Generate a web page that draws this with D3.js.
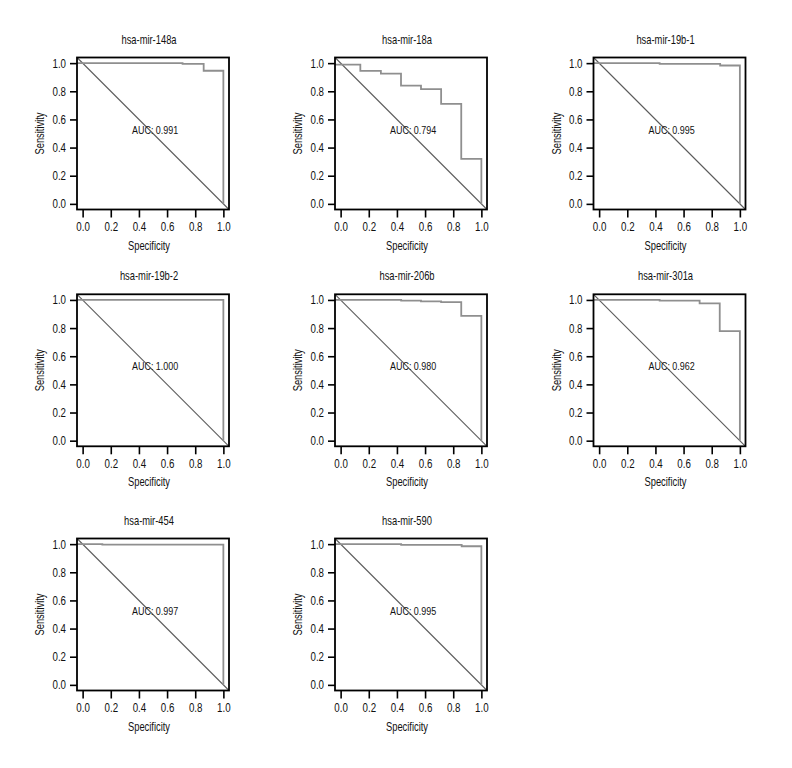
<!DOCTYPE html>
<html>
<head>
<meta charset="utf-8">
<script src="https://cdn.jsdelivr.net/npm/d3@7"></script>
<style>
  body { margin: 0; background: #fff; }
  text { font-family: "Liberation Sans", Arial, sans-serif; fill: #111; }
</style>
</head>
<body>
<svg id="chart"></svg>
<script>
// panel titles and AUC labels
var panelNames = ["hsa-mir-148a", "hsa-mir-18a", "hsa-mir-19b-1", "hsa-mir-19b-2",
                  "hsa-mir-206b", "hsa-mir-301a", "hsa-mir-454", "hsa-mir-590"];
var aucLabels = ["0.991", "0.794", "0.995", "1.000", "0.980", "0.962", "0.997", "0.995"];
var tickValues = [0, 0.2, 0.4, 0.6, 0.8, 1.0];

// step points of each ROC curve (specificity, sensitivity)
var spec148a = [0, 0.71, 0.86, 1.0];
var sens148a = [1.0, 0.995, 0.946, 0.0];
var spec18a = [0, 0.14, 0.286, 0.429, 0.571, 0.714, 0.857, 1.0];
var sens18a = [0.99, 0.945, 0.925, 0.84, 0.815, 0.71, 0.32, 0.0];
var spec19b1 = [0, 0.43, 0.86, 1.0];
var sens19b1 = [1.0, 0.995, 0.983, 0.0];
var spec19b2 = [0, 1.0];
var sens19b2 = [1.0, 0.0];
var spec206b = [0, 0.43, 0.571, 0.714, 0.857, 1.0];
var sens206b = [1.0, 0.995, 0.99, 0.985, 0.887, 0.0];
var spec301a = [0, 0.43, 0.714, 0.857, 1.0];
var sens301a = [1.0, 0.995, 0.975, 0.778, 0.0];
var spec454 = [0, 0.14, 1.0];
var sens454 = [1.0, 0.996, 0.0];
var spec590 = [0, 0.43, 0.86, 1.0];
var sens590 = [1.0, 0.995, 0.985, 0.0];

var specList = [spec148a, spec18a, spec19b1, spec19b2, spec206b, spec301a, spec454, spec590];
var sensList = [sens148a, sens18a, sens19b1, sens19b2, sens206b, sens301a, sens454, sens590];

var svgWidth = 792, svgHeight = 768;
var size = 152;
var colLeft = [77, 335, 593.5];
var rowTop = [57.5, 294.3, 538.5];
var narrow = "scale(0.78,1)";   // condensed look of the original font

var svg = d3.select("#chart")
    .attr("width", svgWidth)
    .attr("height", svgHeight);

var x = d3.scaleLinear().domain([-0.04, 1.04]).range([0, size]);
var y = d3.scaleLinear().domain([-0.04, 1.04]).range([size, 0]);
var fmt = d3.format(".1f");

function label(g, tx, ty, str, fs, extra) {
  return g.append("text")
      .attr("transform", "translate(" + tx + "," + ty + ")" + (extra || "") + " " + narrow)
      .attr("text-anchor", "middle")
      .attr("font-size", fs)
      .text(str);
}

panelNames.forEach(function(name, i) {
  var g = svg.append("g")
      .attr("transform", "translate(" + colLeft[i % 3] + "," + rowTop[Math.floor(i / 3)] + ")");

  // x axis: ticks only, hanging under the frame
  var xa = g.append("g")
      .attr("transform", "translate(0," + size + ")")
      .call(d3.axisBottom(x).tickValues(tickValues).tickFormat(fmt).tickSize(8).tickPadding(5));
  xa.select(".domain").remove();
  xa.selectAll("line").attr("stroke", "#000").attr("stroke-width", 1.6);
  xa.selectAll("text")
      .attr("font-size", 12.5).attr("font-family", null).attr("fill", "#111")
      .attr("transform", narrow);

  var ya = g.append("g")
      .call(d3.axisLeft(y).tickValues(tickValues).tickFormat(fmt).tickSize(7).tickPadding(4));
  ya.select(".domain").remove();
  ya.selectAll("line").attr("stroke", "#000").attr("stroke-width", 1.6);
  ya.selectAll("text")
      .attr("font-size", 12.5).attr("font-family", null).attr("fill", "#111")
      .attr("x", 0)
      .attr("transform", "translate(-11,0) " + narrow);

  // reference diagonal, corner to corner
  g.append("path")
      .datum(x.domain())
      .attr("fill", "none")
      .attr("stroke", "#5a5a5a")
      .attr("stroke-width", 1.1)
      .attr("d", d3.line().x(function(d) { return x(d); }).y(function(d) { return y(1 - d); }));

  // ROC step curve
  var pts = specList[i].map(function(s, k) { return { spec: s, sens: sensList[i][k] }; });
  g.append("path")
      .datum(pts)
      .attr("fill", "none")
      .attr("stroke", "#8f8f8f")
      .attr("stroke-width", 1.8)
      .attr("d", d3.line()
          .curve(d3.curveStepAfter)
          .x(function(d, k) { return k === 0 ? x.range()[0] : x(d.spec); })
          .y(function(d) { return y(d.sens); }));

  // frame
  g.append("rect")
      .attr("width", size)
      .attr("height", size)
      .attr("fill", "none")
      .attr("stroke", "#000")
      .attr("stroke-width", 1.8);

  label(g, size / 2 - 4, -14, name, 12);
  label(g, x(0.515), y(0.5), "AUC: " + aucLabels[i], 11.5);
  label(g, size / 2 - 4, size + 40, "Specificity", 12);
  label(g, -37, size / 2, "Sensitivity", 12, " rotate(-90)").attr("dy", "0.35em");
});
</script>
</body>
</html>
